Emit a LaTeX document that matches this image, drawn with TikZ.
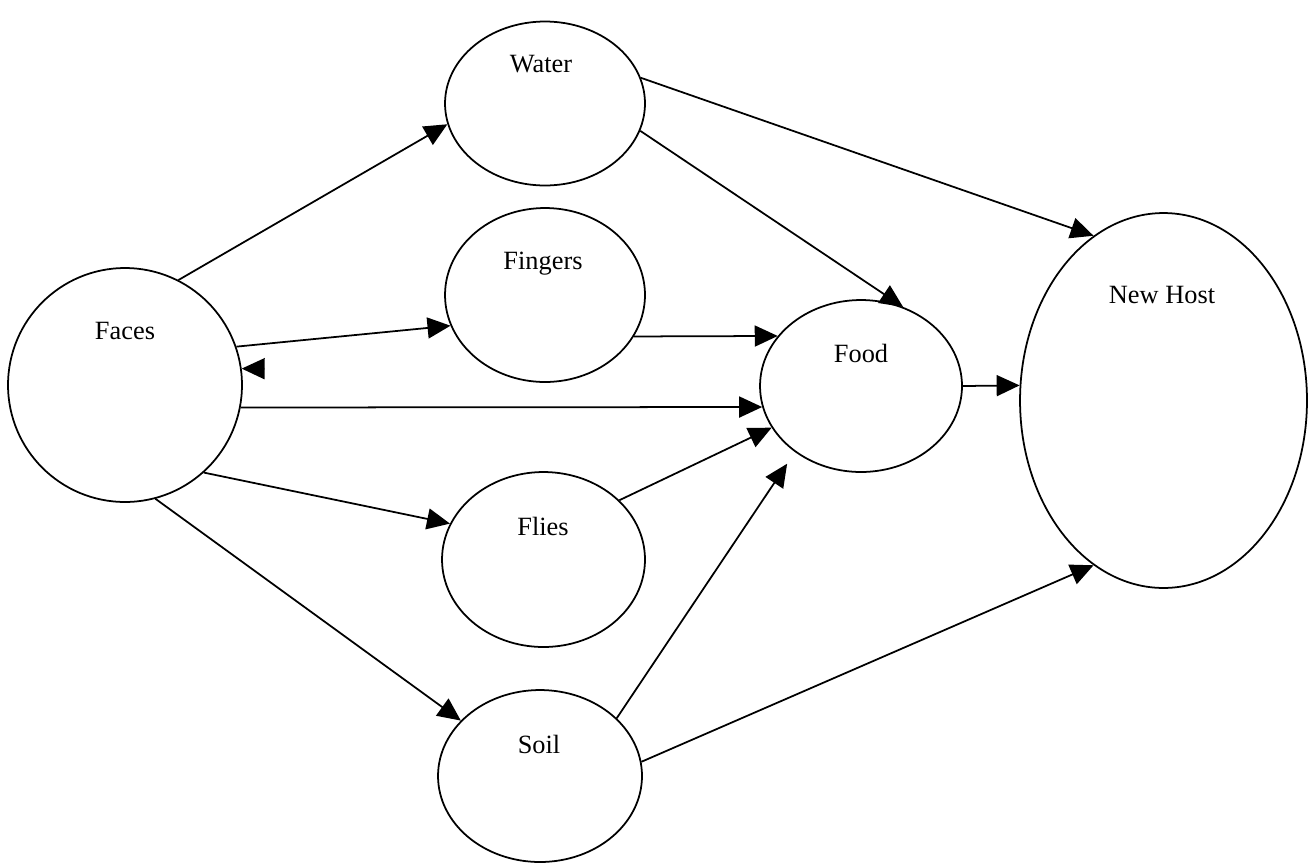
\documentclass[tikz,border=0pt]{standalone}
\usepackage{fontspec}
\setmainfont{Liberation Serif}
\usetikzlibrary{shapes.geometric,arrows.meta}
\tikzstyle{line} = [draw, line width=1pt, -{Triangle[length=0.46cm,width=0.42cm]}]
\tikzstyle{blob} = [ellipse, draw, line width=1pt, inner sep=0pt]

\begin{document}
\begin{tikzpicture}
  [x=0.02cm,y=-0.02cm,every node/.style={font=\fontsize{15}{18}\selectfont}]
  \useasboundingbox (0,0) rectangle (1310,866);

  \node[blob, minimum width=4.68cm, minimum height=4.68cm] (faces) at (125,385) {};
  \node[blob, minimum width=4.00cm, minimum height=3.28cm] (water) at (545,103.5) {};
  \node[blob, minimum width=4.00cm, minimum height=3.48cm] (fingers) at (545,295) {};
  \node[blob, minimum width=4.04cm, minimum height=3.44cm] (food) at (861,386) {};
  \node[blob, minimum width=4.06cm, minimum height=3.50cm] (flies) at (543.5,559.5) {};
  \node[blob, minimum width=4.08cm, minimum height=3.44cm] (soil) at (540,776) {};
  \node[blob, minimum width=5.74cm, minimum height=7.50cm] (host) at (1163.5,400.5) {};

  \node (t_faces) at (125,331) {Faces};
  \node (t_water) at (541,64) {Water};
  \node (t_fingers) at (543,264) {Fingers};
  \node (t_food) at (861,353) {Food};
  \node (t_flies) at (543,526) {Flies};
  \node (t_soil) at (539,744) {Soil};
  \node (t_host) at (1162,295) {New Host};

  %lone head at the faces side
  \coordinate (c_back) at (264,368.7);

  \path [line] (faces.63) -- (water.192);
  \path [line] (faces.19) -- (fingers.198);
  \path [line] (c_back) -- (faces.8);
  \path [line] (faces.-11) -- (food.192);
  \path [line] (faces.-48) -- (flies.159);
  \path [line] (faces.-75) -- (soil.145);

  \path [line] (water.15) -- (host.113);
  \path [line] (water.-16) -- (food.62);
  \path [line] (fingers.-25) -- (food.149);
  \path [line] (flies.38) -- (food.205);
  \path [line, shorten >=0.28cm] (soil.37) -- (food.225);
  \path [line] (soil.8) -- (host.247);
  \path [line] (food.0) -- (host.174);

\end{tikzpicture}
\end{document}
